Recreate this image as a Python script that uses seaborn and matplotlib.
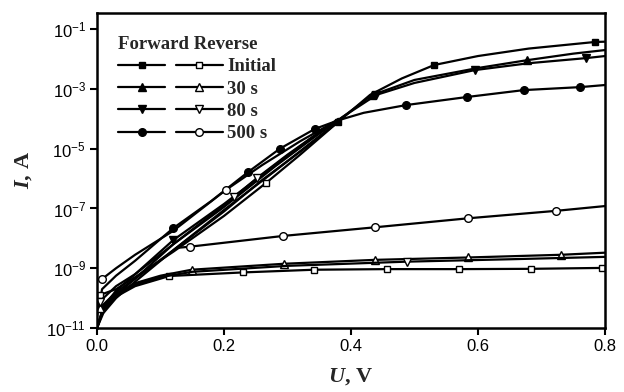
import numpy as np
import pandas as pd
import matplotlib
matplotlib.use('Agg')
import matplotlib.pyplot as plt
import seaborn as sns
from matplotlib.lines import Line2D
from matplotlib.legend_handler import HandlerTuple

# ---- data (log10 of current, A) ----
# forward sweeps
v_fwd_init = [0, 0.01, 0.03, 0.06, 0.12, 0.2, 0.28, 0.34, 0.38, 0.43, 0.48, 0.531, 0.6, 0.68, 0.784, 0.8]
lg_fwd_init = [-11, -10.5, -10.0, -9.45, -8.4, -7.05, -5.75, -4.75, -4.1, -3.2, -2.65, -2.2, -1.9, -1.65, -1.43, -1.42]
v_fwd_30 = [0, 0.01, 0.03, 0.06, 0.12, 0.2, 0.28, 0.34, 0.38, 0.433, 0.5, 0.6, 0.677, 0.75, 0.8]
lg_fwd_30 = [-11, -10.4, -9.9, -9.35, -8.2, -6.95, -5.6, -4.65, -4.05, -3.21, -2.7, -2.3, -2.04, -1.82, -1.7]
v_fwd_80 = [0, 0.01, 0.03, 0.06, 0.12, 0.2, 0.28, 0.34, 0.386, 0.44, 0.5, 0.595, 0.68, 0.77, 0.8]
lg_fwd_80 = [-11, -10.3, -9.75, -9.2, -8.06, -6.85, -5.55, -4.6, -3.95, -3.2, -2.8, -2.37, -2.14, -1.97, -1.9]
v_fwd_500 = [0, 0.008, 0.03, 0.06, 0.12, 0.18, 0.238, 0.288, 0.343, 0.38, 0.42, 0.487, 0.583, 0.672, 0.761, 0.8]
lg_fwd_500 = [-10.6, -9.7, -9.25, -8.75, -7.66, -6.75, -5.78, -5.0, -4.34, -4.05, -3.8, -3.54, -3.27, -3.04, -2.94, -2.87]

# reverse sweeps, low-current branch
v_rev_init_lo = [0, 0.01, 0.03, 0.06, 0.114, 0.23, 0.342, 0.456, 0.57, 0.683, 0.795, 0.8]
lg_rev_init_lo = [-11, -10.4, -9.95, -9.6, -9.26, -9.14, -9.05, -9.03, -9.03, -9.02, -8.99, -8.99]
v_rev_30_lo = [0, 0.01, 0.03, 0.06, 0.1, 0.149, 0.295, 0.438, 0.585, 0.731, 0.8]
lg_rev_30_lo = [-11, -10.3, -9.85, -9.5, -9.25, -9.05, -8.85, -8.72, -8.64, -8.55, -8.48]
v_rev_80_lo = [0, 0.01, 0.03, 0.06, 0.1, 0.15, 0.3, 0.488, 0.65, 0.8]
lg_rev_80_lo = [-11, -10.35, -9.9, -9.55, -9.3, -9.12, -8.92, -8.78, -8.7, -8.62]
v_rev_500_lo = [0.125, 0.146, 0.293, 0.438, 0.584, 0.723, 0.8]
lg_rev_500_lo = [-8.32, -8.28, -7.92, -7.63, -7.33, -7.08, -6.92]

# reverse sweeps, steep branch
v_rev_init_hi = [0.004, 0.03, 0.06, 0.12, 0.2, 0.266, 0.32, 0.38]
lg_rev_init_hi = [-9.9, -9.7, -9.3, -8.45, -7.25, -6.15, -5.2, -4.1]
v_rev_30_hi = [0.004, 0.03, 0.06, 0.12, 0.2, 0.26, 0.32, 0.38]
lg_rev_30_hi = [-10.34, -9.8, -9.35, -8.4, -7.1, -6.05, -5.1, -4.1]
v_rev_80_hi = [0.004, 0.03, 0.06, 0.12, 0.216, 0.252, 0.3, 0.38]
lg_rev_80_hi = [-10.12, -9.6, -9.2, -8.2, -6.62, -5.98, -5.2, -4.0]
v_rev_500_hi = [0.008, 0.03, 0.06, 0.12, 0.203, 0.26, 0.32, 0.37]
lg_rev_500_hi = [-9.36, -9.0, -8.55, -7.75, -6.38, -5.55, -4.75, -4.15]

labels = ["Initial", "30 s", "80 s", "500 s"]
markers = ["s", "^", "v", "o"]
msizes = [4.5, 6, 6, 5.5]

sns.set_theme(style='ticks')
plt.rcParams['font.family'] = ['Liberation Sans', 'DejaVu Sans']
plt.rcParams['mathtext.fontset'] = 'custom'
plt.rcParams['mathtext.rm'] = 'Liberation Sans'
plt.rcParams['mathtext.it'] = 'Liberation Serif:italic:bold'
plt.rcParams['mathtext.bf'] = 'Liberation Serif:bold'

fig = plt.figure(figsize=(6.24, 3.92), dpi=100)
ax = fig.add_axes([97 / 624, 1 - 328 / 392, 508 / 624, 315 / 392])

LW = 1.6


def draw(v, lg, mk, ms, filled, every):
    sns.lineplot(x=v, y=10 ** np.array(lg), ax=ax, color='black', lw=LW,
                 marker=mk, markersize=ms, markevery=every,
                 markerfacecolor='black' if filled else 'white',
                 markeredgecolor='black', markeredgewidth=1.0,
                 sort=False, estimator=None,
                 solid_joinstyle='round', solid_capstyle='round')


# forward curves
draw(v_fwd_init, lg_fwd_init, "s", 4.5, True, [8, 11, 14])
draw(v_fwd_30, lg_fwd_30, "^", 6, True, [9, 12])
draw(v_fwd_80, lg_fwd_80, "v", 6, True, [4, 9, 11, 13])
draw(v_fwd_500, lg_fwd_500, "o", 5.5, True, [4, 6, 7, 8, 11, 12, 13, 14])

# reverse curves
draw(v_rev_init_lo, lg_rev_init_lo, "s", 4.5, False, [4, 5, 6, 7, 8, 9, 10])
draw(v_rev_30_lo, lg_rev_30_lo, "^", 6, False, [5, 6, 7, 8, 9])
draw(v_rev_80_lo, lg_rev_80_lo, "v", 6, False, [7])
draw(v_rev_500_lo, lg_rev_500_lo, "o", 5.5, False, [1, 2, 3, 4, 5])
draw(v_rev_init_hi, lg_rev_init_hi, "s", 4.5, False, [0, 5])
draw(v_rev_30_hi, lg_rev_30_hi, "^", 6, False, [0])
draw(v_rev_80_hi, lg_rev_80_hi, "v", 6, False, [0, 4, 5])
draw(v_rev_500_hi, lg_rev_500_hi, "o", 5.5, False, [0, 4])

ax.set_yscale('log')
ax.set_xlim(0, 0.8)
ax.set_ylim(1e-11, 10 ** -0.46)
ax.set_xticks([0.0, 0.2, 0.4, 0.6, 0.8])
ax.set_xticklabels(['0.0', '0.2', '0.4', '0.6', '0.8'])
ax.set_yticks([1e-11, 1e-9, 1e-7, 1e-5, 1e-3, 1e-1])
ax.yaxis.set_minor_locator(matplotlib.ticker.NullLocator())
ax.tick_params(axis='both', which='major', labelsize=12, direction='out',
               length=5, width=1.5, colors='black', pad=3)
for s in ax.spines.values():
    s.set_linewidth(1.8)
    s.set_color('black')

ax.set_xlabel(r'$U$, V', fontsize=16, fontweight='bold', family='Liberation Serif', labelpad=9)
ax.set_ylabel(r'$I$, A', fontsize=16, fontweight='bold', family='Liberation Serif', labelpad=9)

# legend: forward / reverse side by side
handles = []
for mk, ms in zip(markers, msizes):
    hf = Line2D([], [], color='black', lw=LW, marker=mk, markersize=ms,
                markerfacecolor='black', markeredgecolor='black')
    hr = Line2D([], [], color='black', lw=LW, marker=mk, markersize=ms,
                markerfacecolor='white', markeredgecolor='black')
    handles.append((hf, hr))
leg = ax.legend(handles, labels, handler_map={tuple: HandlerTuple(ndivide=None, pad=0.55)},
                loc='upper left', bbox_to_anchor=(0.012, 0.975), frameon=False,
                handlelength=5.6, handletextpad=0.2, labelspacing=0.28, numpoints=1,
                borderpad=0.3, title='Forward Reverse', alignment='left',
                prop={'family': 'Liberation Serif', 'weight': 'bold', 'size': 13.5},
                title_fontproperties={'family': 'Liberation Serif', 'weight': 'bold', 'size': 13.5})

fig.savefig('out.png', dpi=100)
